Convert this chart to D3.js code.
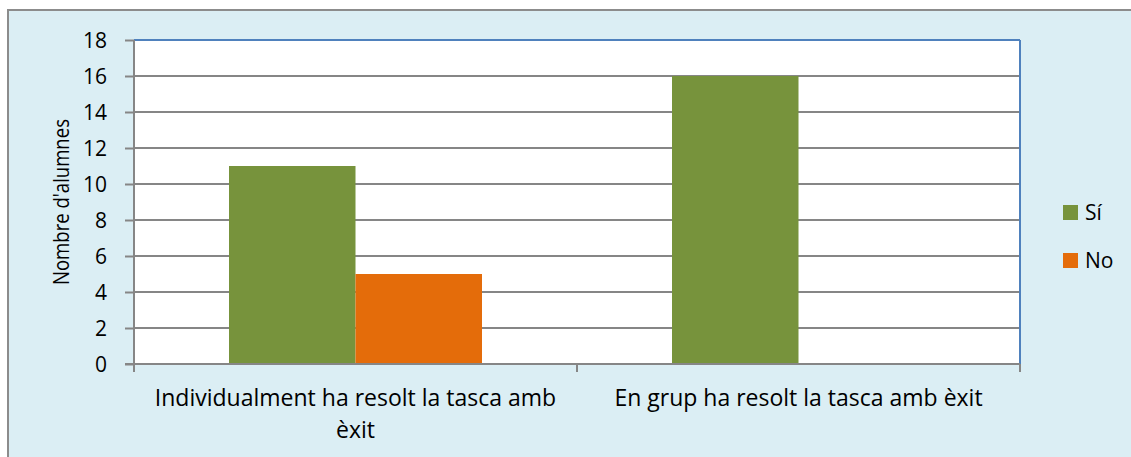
<!DOCTYPE html>
<html>
<head>
<meta charset="utf-8">
<script src="https://cdn.jsdelivr.net/npm/d3@7"></script>
<style>
  body { margin: 0; background: #fff; }
  svg { display: block; font-family: "Open Sans", "Noto Sans", sans-serif; }
</style>
</head>
<body>
<svg id="chart" width="1131" height="457"></svg>
<script>
var categories = [['Individualment ha resolt la tasca amb', 'èxit'], ['En grup ha resolt la tasca amb èxit']]
var series = ['Sí', 'No']
var colors = ['#77933C', '#E46C0A']
var values = [[11, 5], [16, 0]]
var yTicks = [0, 2, 4, 6, 8, 10, 12, 14, 16, 18]

var svg = d3.select('#chart')
var m = {left: 134, top: 40, right: 1020, bottom: 364}

// frame background
svg.append('rect').attr('x', 8).attr('y', 10).attr('width', 1140).attr('height', 460)
  .attr('fill', '#DBEEF4').attr('stroke', '#8C8C8C').attr('stroke-width', 2)

svg.append('rect').attr('x', m.left).attr('y', m.top)
  .attr('width', m.right - m.left).attr('height', m.bottom - m.top).attr('fill', '#fff')

var x = d3.scaleBand().domain(d3.range(categories.length)).range([m.left, m.right])
var inner = d3.scaleBand().domain(series).range([95, x.bandwidth() - 95])
var y = d3.scaleLinear().domain([0, 18]).range([m.bottom, m.top])

// gridlines
svg.append('g').selectAll('line').data(yTicks.filter(d => d > 0)).join('line')
  .attr('x1', m.left).attr('x2', m.right)
  .attr('y1', d => y(d)).attr('y2', d => y(d))
  .attr('stroke', d => d === 18 ? '#4F81BD' : '#868686').attr('stroke-width', 2)

// right border
svg.append('line').attr('x1', m.right).attr('x2', m.right).attr('y1', m.top).attr('y2', m.bottom)
  .attr('stroke', '#4F81BD').attr('stroke-width', 2)

// bars
var g = svg.append('g').selectAll('g').data(values).join('g')
  .attr('transform', (d, i) => 'translate(' + x(i) + ',0)')
g.selectAll('rect').data(d => d).join('rect')
  .attr('x', (d, j) => inner(series[j]))
  .attr('width', inner.bandwidth())
  .attr('y', d => y(d))
  .attr('height', d => y(0) - y(d))
  .attr('fill', (d, j) => colors[j])

// y axis
var yAxis = d3.axisLeft(y).tickValues(yTicks).tickSize(9).tickPadding(18)
var ya = svg.append('g').attr('transform', 'translate(' + m.left + ',0)').call(yAxis)
ya.select('.domain').attr('stroke', '#868686').attr('stroke-width', 2).attr('d', 'M0,' + m.top + 'V' + (m.bottom + 6))
ya.selectAll('.tick line').attr('stroke', '#868686').attr('stroke-width', 2)
ya.selectAll('.tick text').attr('font-size', 21).attr('fill', '#000')
  .attr('font-family', '"Open Sans", sans-serif').attr('dy', '0.36em')

// x axis
svg.append('line').attr('x1', m.left - 9).attr('x2', m.right).attr('y1', m.bottom).attr('y2', m.bottom)
  .attr('stroke', '#868686').attr('stroke-width', 2)
svg.append('g').selectAll('line').data(d3.range(categories.length + 1)).join('line')
  .attr('x1', d => m.left + d * x.step()).attr('x2', d => m.left + d * x.step())
  .attr('y1', m.bottom).attr('y2', m.bottom + 8)
  .attr('stroke', '#868686').attr('stroke-width', 2)

svg.append('g').selectAll('text').data(categories).join('text')
  .attr('x', (d, i) => x(i) + x.bandwidth() / 2)
  .attr('y', 406)
  .attr('text-anchor', 'middle').attr('font-size', 23)
  .selectAll('tspan').data(d => d).join('tspan')
  .attr('x', function () { return d3.select(this.parentNode).attr('x') })
  .attr('dy', (d, k) => k === 0 ? 0 : 32)
  .text(d => d)

// y label (narrowed a little, the original face is condensed)
svg.append('text').attr('transform', 'translate(69,' + (m.top + m.bottom) / 2 + ') rotate(-90)')
  .attr('text-anchor', 'middle').attr('font-size', 21)
  .attr('textLength', 166).attr('lengthAdjust', 'spacingAndGlyphs')
  .text("Nombre d'alumnes")

// legend
var lg = svg.append('g').selectAll('g').data(series).join('g')
  .attr('transform', (d, i) => 'translate(1063,' + (205 + i * 48) + ')')
lg.append('rect').attr('width', 15).attr('height', 15).attr('fill', (d, i) => colors[i])
lg.append('text').attr('x', 22).attr('y', 15).attr('font-size', 21).text(d => d)
</script>
</body>
</html>
